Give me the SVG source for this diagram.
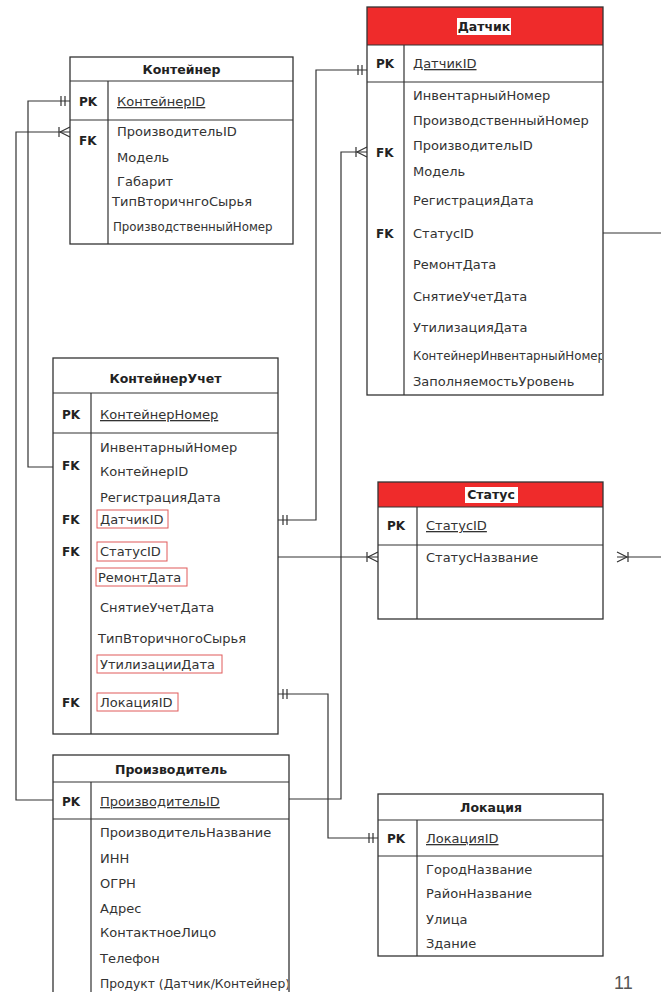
<svg xmlns="http://www.w3.org/2000/svg" width="661" height="992" viewBox="0 0 661 992">
<style>
.bg{fill:#fff;stroke:none}
.bd{fill:none;stroke:#333;stroke-width:1.3}
.red{fill:#EF2B2B;stroke:none}
.hlw{fill:#fff;stroke:none}
.ln{fill:none;stroke:#333;stroke-width:1.2}
.t{font-family:"DejaVu Sans",sans-serif;font-size:13px;fill:#333}
.s{font-size:12.3px}
.xs{font-size:11.8px}
.ttl{font-family:"DejaVu Sans",sans-serif;font-weight:bold;font-size:12.5px;fill:#222;text-anchor:middle}
.k{font-family:"DejaVu Sans",sans-serif;font-weight:bold;font-size:12px;fill:#222}
.u{text-decoration:underline}
.rb{fill:none;stroke:#E05A5A;stroke-width:1}
.pg{font-family:"Liberation Sans",sans-serif;font-size:18px;fill:#555}
</style>
<defs>
<marker id="one" viewBox="-12 -6 14 12" refX="0" refY="0" markerWidth="14" markerHeight="12" markerUnits="userSpaceOnUse" orient="auto-start-reverse">
<path d="M-9,-5V5M-5,-5V5" fill="none" stroke="#333" stroke-width="1.2"/>
</marker>
<marker id="many" viewBox="-13 -6 15 12" refX="0" refY="0" markerWidth="15" markerHeight="12" markerUnits="userSpaceOnUse" orient="auto-start-reverse">
<path d="M-11,-5V5M-10,0L0,-5M-10,0L0,5" fill="none" stroke="#333" stroke-width="1.2"/>
</marker>
<clipPath id="cpD"><rect x="404" y="82" width="198" height="312"/></clipPath>
<clipPath id="cpP"><rect x="91" y="819" width="197" height="180"/></clipPath>
</defs>

<g id="connectors">
<path class="ln" d="M53,467H28V101H70" marker-end="url(#one)"/>
<path class="ln" d="M53,800H16V132H70" marker-end="url(#many)"/>
<path class="ln" d="M278,520H316V70H367" marker-start="url(#one)" marker-end="url(#one)"/>
<path class="ln" d="M289,799H341V152H367" marker-end="url(#many)"/>
<path class="ln" d="M278,557H378" marker-end="url(#many)"/>
<path class="ln" d="M278,694H328V838H378" marker-start="url(#one)" marker-end="url(#one)"/>
<path class="ln" d="M603,233H661"/>
<path class="ln" d="M617,557H661" marker-start="url(#many)"/>
</g>

<g id="kontejner">
<rect class="bg" x="70" y="57" width="223" height="187"/>
<rect class="bd" x="70" y="57" width="223" height="187"/>
<path class="ln" d="M70,81H293M70,120H293M108,81V244"/>
<text class="ttl" x="181.5" y="74">Контейнер</text>
<text class="k" x="79" y="106">PK</text>
<text class="t u" x="117" y="106">КонтейнерID</text>
<text class="k" x="79" y="145">FK</text>
<text class="t" x="117" y="136">ПроизводительID</text>
<text class="t" x="117" y="162">Модель</text>
<text class="t" x="117" y="186">Габарит</text>
<text class="t" x="112" y="206">ТипВторичнгоСырья</text>
<text class="t xs" x="113" y="231">ПроизводственныйНомер</text>
</g>

<g id="datchik">
<rect class="bg" x="367" y="7" width="236" height="388"/>
<rect class="red" x="367" y="7" width="236" height="38"/>
<rect class="bd" x="367" y="7" width="236" height="388"/>
<path class="ln" d="M367,45H603M367,82H603M404,45V395"/>
<rect class="hlw" x="457" y="18" width="54" height="17"/>
<text class="ttl" x="484" y="31">Датчик</text>
<text class="k" x="376" y="68">PK</text>
<text class="t u" x="413" y="68">ДатчикID</text>
<text class="k" x="376" y="157">FK</text>
<text class="k" x="376" y="238">FK</text>
<text class="t" x="413" y="100">ИнвентарныйНомер</text>
<text class="t" x="413" y="125">ПроизводственныйНомер</text>
<text class="t" x="413" y="150">ПроизводительID</text>
<text class="t" x="413" y="176">Модель</text>
<text class="t" x="413" y="205">РегистрацияДата</text>
<text class="t" x="413" y="238">СтатусID</text>
<text class="t" x="413" y="269">РемонтДата</text>
<text class="t" x="413" y="301">СнятиеУчетДата</text>
<text class="t" x="413" y="332">УтилизацияДата</text>
<text class="t xs" x="413" y="360" clip-path="url(#cpD)">КонтейнерИнвентарныйНомер</text>
<text class="t" x="413" y="386">ЗаполняемостьУровень</text>
</g>

<g id="kontejneruchet">
<rect class="bg" x="53" y="358" width="225" height="376"/>
<rect class="bd" x="53" y="358" width="225" height="376"/>
<path class="ln" d="M53,393H278M53,433H278M91,393V734"/>
<text class="ttl" x="165.5" y="383">КонтейнерУчет</text>
<text class="k" x="62" y="419">PK</text>
<text class="t u" x="100" y="419">КонтейнерНомер</text>
<text class="k" x="62" y="470">FK</text>
<text class="k" x="62" y="524">FK</text>
<text class="k" x="62" y="556">FK</text>
<text class="k" x="62" y="707">FK</text>
<text class="t" x="100" y="452">ИнвентарныйНомер</text>
<text class="t" x="100" y="476">КонтейнерID</text>
<text class="t" x="100" y="502">РегистрацияДата</text>
<text class="t" x="100" y="524">ДатчикID</text>
<text class="t" x="100" y="556">СтатусID</text>
<text class="t" x="98" y="582">РемонтДата</text>
<text class="t" x="100" y="612">СнятиеУчетДата</text>
<text class="t" x="98" y="643">ТипВторичногоСырья</text>
<text class="t" x="100" y="669">УтилизацииДата</text>
<text class="t" x="100" y="707">ЛокацияID</text>
<rect class="rb" x="97" y="510" width="71" height="18"/>
<rect class="rb" x="97" y="542" width="70" height="19"/>
<rect class="rb" x="96" y="568" width="91" height="18"/>
<rect class="rb" x="97" y="655" width="125" height="18"/>
<rect class="rb" x="97" y="693" width="81" height="18"/>
</g>

<g id="status">
<rect class="bg" x="378" y="482" width="225" height="137"/>
<rect class="red" x="378" y="482" width="225" height="25"/>
<rect class="bd" x="378" y="482" width="225" height="137"/>
<path class="ln" d="M378,507H603M378,545H603M417,507V619"/>
<rect class="hlw" x="465" y="487" width="53" height="16"/>
<text class="ttl" x="491" y="499">Статус</text>
<text class="k" x="387" y="530">PK</text>
<text class="t u" x="426" y="530">СтатусID</text>
<text class="t" x="426" y="562">СтатусНазвание</text>
</g>

<g id="proizvoditel">
<rect class="bg" x="53" y="755" width="236" height="250"/>
<rect class="bd" x="53" y="755" width="236" height="250"/>
<path class="ln" d="M53,782H289M53,819H289M91,782V1005"/>
<text class="ttl" x="171" y="774">Производитель</text>
<text class="k" x="62" y="806">PK</text>
<text class="t u" x="100" y="806">ПроизводительID</text>
<text class="t" x="100" y="837">ПроизводительНазвание</text>
<text class="t" x="100" y="863">ИНН</text>
<text class="t" x="100" y="888">ОГРН</text>
<text class="t" x="100" y="913">Адрес</text>
<text class="t" x="100" y="937">КонтактноеЛицо</text>
<text class="t" x="100" y="963">Телефон</text>
<text class="t s" x="100" y="988" clip-path="url(#cpP)">Продукт (Датчик/Контейнер)</text>
</g>

<g id="lokaciya">
<rect class="bg" x="378" y="794" width="225" height="162"/>
<rect class="bd" x="378" y="794" width="225" height="162"/>
<path class="ln" d="M378,820H603M378,856H603M417,820V956"/>
<text class="ttl" x="491" y="812">Локация</text>
<text class="k" x="387" y="843">PK</text>
<text class="t u" x="426" y="843">ЛокацияID</text>
<text class="t" x="426" y="874">ГородНазвание</text>
<text class="t" x="426" y="898">РайонНазвание</text>
<text class="t" x="426" y="924">Улица</text>
<text class="t" x="426" y="948">Здание</text>
</g>

<text class="pg" x="614" y="989">11</text>
</svg>
